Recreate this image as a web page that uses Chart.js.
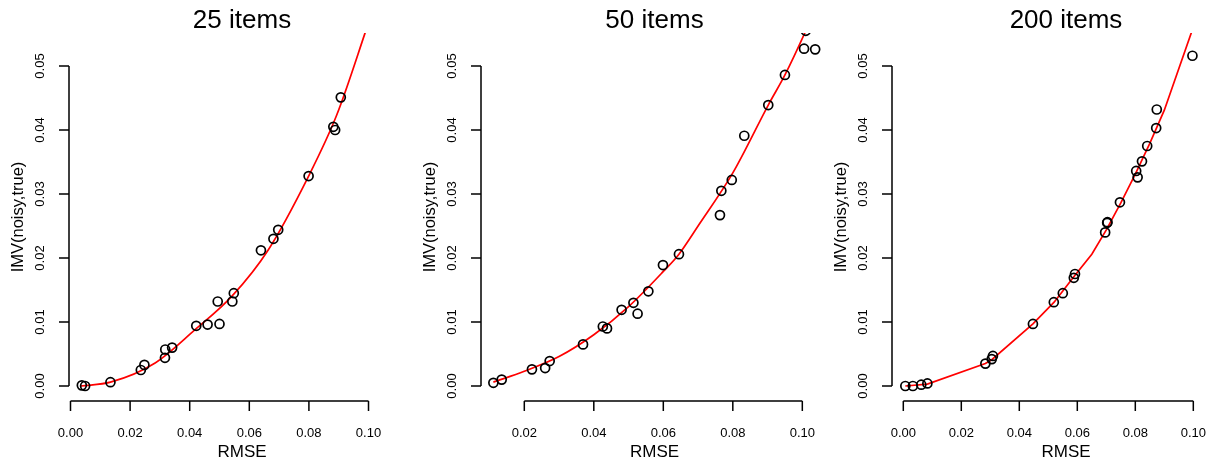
<!DOCTYPE html>
<html>
<head>
<meta charset="utf-8">
<script src="https://cdn.jsdelivr.net/npm/chart.js@4/dist/chart.umd.min.js"></script>
<style>
  html, body { margin: 0; padding: 0; background: #fff; overflow: hidden; }
  #wrap { position: relative; width: 1211px; height: 459px; overflow: hidden; }
  #wrap canvas { position: absolute; left: 0; top: 0; }
</style>
</head>
<body>
<div id="wrap">
  <canvas id="p25" width="1260" height="459"></canvas>
  <canvas id="p50" width="1260" height="459"></canvas>
  <canvas id="p200" width="1260" height="459"></canvas>
</div>
<script>
// ---- data ----
const titles = ['25 items', '50 items', '200 items'];
const yTicks = [0, 0.01, 0.02, 0.03, 0.04, 0.05];
const xTicks25 = [0, 0.02, 0.04, 0.06, 0.08, 0.10];
const xTicks50 = [0.02, 0.04, 0.06, 0.08, 0.10];
const xTicks200 = [0, 0.02, 0.04, 0.06, 0.08, 0.10];

// 25 items
const rmse25 = [0.0038, 0.0049, 0.0134, 0.0236, 0.0248, 0.0317, 0.0318, 0.0341, 0.0422, 0.0460,
                0.0500, 0.0494, 0.0543, 0.0548, 0.0639, 0.0681, 0.0697, 0.0799, 0.0882, 0.0888, 0.0907];
const imv25 = [0.0001, 0.0000, 0.0006, 0.0025, 0.0033, 0.0044, 0.0057, 0.0060, 0.0094, 0.0096,
               0.0097, 0.0132, 0.0132, 0.0145, 0.0212, 0.0230, 0.0244, 0.0328, 0.0405, 0.0400, 0.0451];
const fitX25 = [0.0035, 0.0134, 0.0284, 0.0418, 0.0541, 0.0664, 0.0799, 0.0893, 0.0988, 0.11];
const fitY25 = [0.0000, 0.0006, 0.0036, 0.0088, 0.0140, 0.0213, 0.0328, 0.0423, 0.0551, 0.0710];

// 50 items
const rmse50 = [0.0111, 0.0135, 0.0222, 0.0260, 0.0273, 0.0369, 0.0426, 0.0438, 0.0480, 0.0514,
                0.0526, 0.0557, 0.0599, 0.0645, 0.0763, 0.0767, 0.0797, 0.0833, 0.0902, 0.0950,
                0.1005, 0.1037, 0.1010];
const imv50 = [0.0005, 0.0010, 0.0026, 0.0028, 0.0039, 0.0065, 0.0093, 0.0090, 0.0119, 0.0130,
               0.0113, 0.0148, 0.0189, 0.0206, 0.0267, 0.0305, 0.0322, 0.0391, 0.0439, 0.0486,
               0.0527, 0.0526, 0.0555];
const fitX50 = [0.0111, 0.02, 0.03, 0.04, 0.05, 0.06, 0.0645, 0.07, 0.08, 0.0902, 0.095, 0.101, 0.107];
const fitY50 = [0.0006, 0.0023, 0.0046, 0.0080, 0.0124, 0.0179, 0.0206, 0.0250, 0.0333, 0.0439, 0.0486, 0.0555, 0.0630];

// 200 items
const rmse200 = [0.0007, 0.0033, 0.0062, 0.0083, 0.0283, 0.0305, 0.0309, 0.0447, 0.0519, 0.0550,
                 0.0588, 0.0592, 0.0696, 0.0703, 0.0704, 0.0747, 0.0803, 0.0808, 0.0823, 0.0841,
                 0.0872, 0.0874, 0.0997];
const imv200 = [0.0000, 0.0000, 0.0002, 0.0004, 0.0035, 0.0042, 0.0047, 0.0097, 0.0131, 0.0145,
                0.0169, 0.0175, 0.0240, 0.0255, 0.0256, 0.0287, 0.0336, 0.0326, 0.0351, 0.0375,
                0.0403, 0.0432, 0.0516];
const fitX200 = [0.0007, 0.0083, 0.0283, 0.0305, 0.0447, 0.052, 0.059, 0.065, 0.070, 0.075, 0.08, 0.085, 0.09, 0.0994, 0.11];
const fitY200 = [0.0000, 0.0003, 0.0035, 0.0041, 0.0097, 0.0131, 0.0172, 0.0206, 0.0244, 0.0286, 0.0331, 0.0379, 0.0431, 0.0553, 0.0690];

// ---- layout (plot region in page pixels and the value range it covers) ----
const plotTop = 33, plotBottom = 401;
const yMin = -0.002344, yMax = 0.055156;
const panels = [
  { id: 'p25',  title: titles[0], rmse: rmse25,  imv: imv25,  fitX: fitX25,  fitY: fitY25,  xTicks: xTicks25,  left: 69,  right: 415,  xMin: -0.000503, xMax: 0.11560, smooth: true },
  { id: 'p50',  title: titles[1], rmse: rmse50,  imv: imv50,  fitX: fitX50,  fitY: fitY50,  xTicks: xTicks50,  left: 481, right: 828,  xMin: 0.00754,   xMax: 0.10739, smooth: true },
  { id: 'p200', title: titles[2], rmse: rmse200, imv: imv200, fitX: fitX200, fitY: fitY200, xTicks: xTicks200, left: 892, right: 1240, xMin: -0.003897, xMax: 0.11610, smooth: false }
];

const FONT = '"Liberation Sans", Arial, Helvetica, sans-serif';

// base-graphics style axes, drawn from the chart's own scales
const rAxes = {
  id: 'rAxes',
  afterDatasetsDraw(chart, args, opts) {
    const { ctx, chartArea } = chart;
    const xs = chart.scales.x, ys = chart.scales.y;
    const xt = opts.xTicks;
    ctx.save();
    ctx.strokeStyle = '#000';
    ctx.fillStyle = '#000';
    ctx.lineWidth = 1.5;

    // x axis
    const yb = chartArea.bottom;
    ctx.beginPath();
    ctx.moveTo(xs.getPixelForValue(xt[0]), yb);
    ctx.lineTo(xs.getPixelForValue(xt[xt.length - 1]), yb);
    xt.forEach(v => {
      const px = xs.getPixelForValue(v);
      ctx.moveTo(px, yb);
      ctx.lineTo(px, yb + 10);
    });
    // y axis
    const xl = chartArea.left;
    ctx.moveTo(xl, ys.getPixelForValue(yTicks[0]));
    ctx.lineTo(xl, ys.getPixelForValue(yTicks[yTicks.length - 1]));
    yTicks.forEach(v => {
      const py = ys.getPixelForValue(v);
      ctx.moveTo(xl, py);
      ctx.lineTo(xl - 10, py);
    });
    ctx.stroke();

    // tick labels
    ctx.font = '13px ' + FONT;
    ctx.textAlign = 'center';
    ctx.textBaseline = 'alphabetic';
    xt.forEach(v => ctx.fillText(v.toFixed(2), xs.getPixelForValue(v), yb + 36));
    yTicks.forEach(v => {
      ctx.save();
      ctx.translate(xl - 25, ys.getPixelForValue(v));
      ctx.rotate(-Math.PI / 2);
      ctx.fillText(v.toFixed(2), 0, 0);
      ctx.restore();
    });

    // axis titles
    const cx = (chartArea.left + chartArea.right) / 2;
    const cy = (chartArea.top + chartArea.bottom) / 2;
    ctx.font = '17px ' + FONT;
    ctx.fillText('RMSE', cx, yb + 56);
    ctx.font = '16.5px ' + FONT;
    ctx.save();
    ctx.translate(xl - 46, cy);
    ctx.rotate(-Math.PI / 2);
    ctx.fillText('IMV(noisy,true)', 0, 0);
    ctx.restore();

    // main title
    ctx.font = '26px ' + FONT;
    ctx.fillText(opts.title, cx, 28);
    ctx.restore();
  }
};

panels.forEach(p => {
  const canvas = document.getElementById(p.id);
  const ctx = canvas.getContext('2d');
  const pts = p.rmse.map((x, i) => ({ x: x, y: p.imv[i] }));
  const fit = p.fitX.map((x, i) => ({ x: x, y: p.fitY[i] }));

  const fitSet = {
    type: 'line',
    data: fit,
    borderColor: '#ff0000',
    borderWidth: 1.7,
    pointRadius: 0,
    fill: false,
    tension: 0,
    clip: 0,
    order: 2
  };
  if (p.smooth) fitSet.cubicInterpolationMode = 'monotone';

  new Chart(ctx, {
    type: 'scatter',
    data: {
      datasets: [
        fitSet,
        {
          data: pts,
          pointStyle: 'circle',
          pointRadius: 4.5,
          pointBorderWidth: 1.7,
          pointBorderColor: '#000',
          pointBackgroundColor: 'rgba(0,0,0,0)',
          clip: 0,
          order: 1
        }
      ]
    },
    options: {
      responsive: false,
      animation: false,
      events: [],
      layout: {
        padding: {
          left: p.left,
          top: plotTop,
          right: canvas.width - p.right,
          bottom: canvas.height - plotBottom
        }
      },
      plugins: {
        legend: { display: false },
        tooltip: { enabled: false },
        title: { display: false },
        rAxes: { xTicks: p.xTicks, title: p.title }
      },
      scales: {
        x: { type: 'linear', min: p.xMin, max: p.xMax, display: false },
        y: { type: 'linear', min: yMin, max: yMax, display: false }
      }
    },
    plugins: [rAxes]
  });
});
</script>
</body>
</html>
